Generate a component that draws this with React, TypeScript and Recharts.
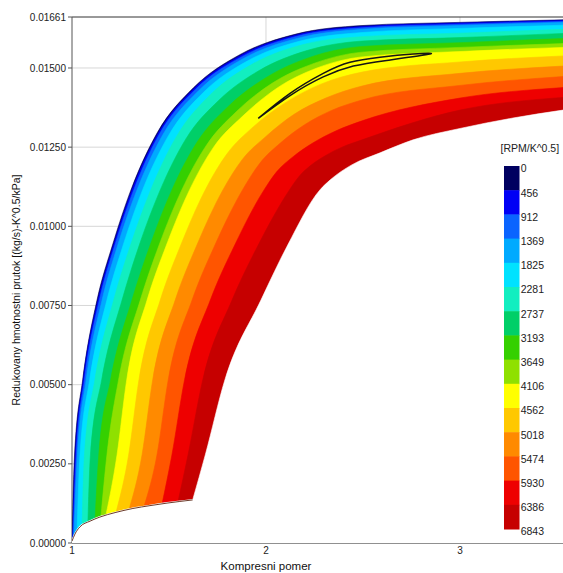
import React from "react";
import { ScatterChart, Scatter, XAxis, YAxis, ReferenceLine, Legend, Curve } from "recharts";

const FONT = '"Liberation Sans", Arial, sans-serif';

// hranice pasem otacek, body [kompresni pomer, prutok], od modre (0) po vnejsi cervenou (15)
const B0 = [[1.0, 0.00006], [1.013, 0.00278], [1.055, 0.00515], [1.129, 0.00767], [1.209, 0.00941], [1.304, 0.01115], [1.44, 0.01296], [1.627, 0.01438], [1.865, 0.01542], [2.154, 0.01607], [2.495, 0.01634], [3.0, 0.01644], [3.531, 0.01652]];
const B1 = [[1.003, 0.0001], [1.017, 0.00278], [1.058, 0.00515], [1.134, 0.00767], [1.214, 0.00941], [1.309, 0.01115], [1.444, 0.01294], [1.63, 0.01436], [1.867, 0.01539], [2.155, 0.01604], [2.495, 0.01631], [3.0, 0.01642], [3.531, 0.0165]];
const B2 = [[1.005, 0.00014], [1.022, 0.00278], [1.064, 0.00515], [1.141, 0.00767], [1.221, 0.00941], [1.318, 0.01115], [1.452, 0.01293], [1.637, 0.01433], [1.873, 0.01535], [2.158, 0.016], [2.495, 0.01627], [3.0, 0.01638], [3.531, 0.01647]];
const B3 = [[1.01, 0.00021], [1.028, 0.00278], [1.073, 0.00515], [1.155, 0.00767], [1.236, 0.00941], [1.335, 0.01115], [1.469, 0.0129], [1.652, 0.01428], [1.884, 0.0153], [2.165, 0.01594], [2.495, 0.01622], [3.0, 0.01634], [3.531, 0.01644]];
const B4 = [[1.026, 0.00037], [1.041, 0.00278], [1.091, 0.00515], [1.18, 0.00767], [1.264, 0.00941], [1.364, 0.01115], [1.498, 0.01287], [1.678, 0.01423], [1.904, 0.01522], [2.176, 0.01585], [2.495, 0.01612], [3.0, 0.01625], [3.531, 0.01635]];
const B5 = [[1.052, 0.00054], [1.064, 0.00278], [1.118, 0.00515], [1.215, 0.00767], [1.302, 0.00941], [1.406, 0.01115], [1.539, 0.01284], [1.714, 0.01416], [1.932, 0.01513], [2.192, 0.01574], [2.495, 0.01599], [3.0, 0.0161], [3.531, 0.01622]];
const B6 = [[1.082, 0.00066], [1.095, 0.00278], [1.153, 0.00515], [1.258, 0.00767], [1.347, 0.00941], [1.455, 0.01115], [1.587, 0.01276], [1.757, 0.01398], [1.965, 0.01492], [2.211, 0.01555], [2.495, 0.01585], [3.0, 0.01596], [3.531, 0.01609]];
const B7 = [[1.119, 0.00075], [1.138, 0.00278], [1.199, 0.00515], [1.309, 0.00767], [1.403, 0.00941], [1.515, 0.01115], [1.645, 0.01266], [1.808, 0.0138], [2.004, 0.01471], [2.233, 0.01535], [2.495, 0.01568], [3.0, 0.0158], [3.531, 0.01593]];
const B8 = [[1.149, 0.00083], [1.18, 0.00278], [1.24, 0.00515], [1.352, 0.00767], [1.449, 0.00941], [1.566, 0.01115], [1.693, 0.01256], [1.849, 0.01363], [2.035, 0.01453], [2.25, 0.01515], [2.495, 0.0155], [3.0, 0.01565], [3.531, 0.01577]];
const B9 = [[1.175, 0.00088], [1.232, 0.00278], [1.282, 0.00515], [1.387, 0.00767], [1.487, 0.00941], [1.606, 0.01115], [1.73, 0.0125], [1.88, 0.01348], [2.058, 0.01437], [2.263, 0.015], [2.495, 0.01535], [3.0, 0.01552], [3.531, 0.01565]];
const B10 = [[1.227, 0.00097], [1.292, 0.00278], [1.345, 0.00515], [1.455, 0.00767], [1.561, 0.00941], [1.687, 0.01115], [1.798, 0.01228], [1.934, 0.01314], [2.096, 0.01389], [2.283, 0.01449], [2.495, 0.01487], [3.0, 0.01519], [3.531, 0.01538]];
const B11 = [[1.294, 0.00106], [1.361, 0.00278], [1.416, 0.00515], [1.532, 0.00767], [1.644, 0.00941], [1.778, 0.01115], [1.878, 0.01211], [2.0, 0.01284], [2.143, 0.01353], [2.308, 0.01405], [2.495, 0.01443], [3.0, 0.01483], [3.531, 0.01506]];
const B12 = [[1.371, 0.00115], [1.438, 0.00278], [1.496, 0.00515], [1.619, 0.00767], [1.737, 0.00941], [1.879, 0.01115], [1.968, 0.01199], [2.074, 0.01263], [2.197, 0.0132], [2.338, 0.01366], [2.495, 0.01399], [3.0, 0.01445], [3.531, 0.01473]];
const B13 = [[1.464, 0.00123], [1.515, 0.00278], [1.58, 0.00515], [1.713, 0.00767], [1.839, 0.00941], [1.99, 0.01115], [2.056, 0.01173], [2.14, 0.0122], [2.241, 0.01263], [2.359, 0.01301], [2.495, 0.01333], [3.0, 0.01405], [3.531, 0.01438]];
const B14 = [[1.546, 0.00129], [1.598, 0.00278], [1.674, 0.00515], [1.825, 0.00767], [1.96, 0.00941], [2.121, 0.01115], [2.167, 0.01155], [2.228, 0.01191], [2.303, 0.01222], [2.392, 0.0125], [2.495, 0.01273], [3.0, 0.01367], [3.531, 0.01407]];
const B15 = [[1.622, 0.00136], [1.687, 0.00278], [1.788, 0.00515], [1.974, 0.00767], [2.112, 0.00941], [2.278, 0.01115], [2.33, 0.01146], [2.442, 0.01194], [2.588, 0.01232], [2.758, 0.01273], [3.0, 0.01309], [3.273, 0.01342], [3.531, 0.01367]];
const BOUNDARIES = [B0, B1, B2, B3, B4, B5, B6, B7, B8, B9, B10, B11, B12, B13, B14];

// spodni okraj mapy
const BOTTOM_EDGE = [[1.0, 0.00006], [1.015, 0.00028], [1.041, 0.00051], [1.093, 0.00069], [1.144, 0.00082], [1.222, 0.00096], [1.314, 0.00109], [1.402, 0.00118], [1.49, 0.00126], [1.622, 0.00136]];

// cerna smycka (pracovni oblast)
const LOOP = [[1.96, 0.01341], [2.124, 0.0142], [2.295, 0.01483], [2.433, 0.01518], [2.588, 0.01534], [2.759, 0.01544], [2.845, 0.01544], [2.622, 0.01524], [2.45, 0.01506], [2.295, 0.01472], [2.124, 0.01413], [1.96, 0.01341]];

const LEVELS = [0, 456, 912, 1369, 1825, 2281, 2737, 3193, 3649, 4106, 4562, 5018, 5474, 5930, 6386, 6843];
const BAND_COLORS = ["#000060", "#0000f5", "#0a64ff", "#00aaff", "#00e2ff", "#12eec0", "#00cf68", "#35d000", "#8fe000", "#ffff00", "#ffc800", "#ff8a00", "#ff5500", "#ee0000", "#c60000"];

const X_TICKS = [1, 2, 3];
const Y_TICKS = [0, 0.0025, 0.005, 0.0075, 0.01, 0.0125, 0.015, 0.01661];
const X_MAX = 3.531;
const Y_MAX = 0.01661;

// posledni bod (x, 0) slouzi jen jako zakladna plochy
const withBase = (arr: number[][]) => [...arr, [arr[arr.length - 1][0], 0]].map(([x, y]) => ({ x, y }));

const bandSeries = BAND_COLORS.map((color, k) => ({ color, points: withBase(BOUNDARIES[k]) }));
const masks = [
  { points: withBase(B15), width: 0.6 },
  { points: withBase(BOTTOM_EDGE), width: 2 },
];
const bottomPts = BOTTOM_EDGE.map(([x, y]) => ({ x, y }));
const loopPts = LOOP.map(([x, y]) => ({ x, y }));

const noDot = () => <g />;

// plocha pod hranici az k ose x
const areaUnder = (color: string, width = 0.6) => (lp: any) => {
  const pts = lp.points;
  const base = pts[pts.length - 1].y;
  return (
    <Curve
      type="monotoneX"
      points={pts.slice(0, -1)}
      baseLine={base}
      layout="horizontal"
      fill={color}
      stroke={color}
      strokeWidth={width}
    />
  );
};

function ColorBar() {
  const top = 28;
  const bandH = 24.2;
  return (
    <svg width={70} height={400} style={{ fontFamily: FONT }}>
      <text x={5.5} y={13.8} fontSize={10.5} fill="#222">
        [RPM/K^0.5]
      </text>
      {BAND_COLORS.map((c, i) => (
        <rect key={c} x={9} y={top + i * bandH} width={15.5} height={bandH + 0.5} fill={c} />
      ))}
      {LEVELS.map((v, i) => (
        <text key={v} x={25.7} y={top + i * bandH + 6.3} fontSize={10.5} fill="#222">
          {v}
        </text>
      ))}
    </svg>
  );
}

function AxisTitle({ tx, ty, rot, size, text }: { tx: number; ty: number; rot?: number; size: number; text: string }) {
  return (
    <text
      x={tx}
      y={ty}
      transform={rot ? `rotate(${rot} ${tx} ${ty})` : undefined}
      textAnchor="middle"
      fontSize={size}
      fontFamily={FONT}
      fill="#111"
    >
      {text}
    </text>
  );
}

export default function App() {
  return (
    <div style={{ position: "absolute", left: 0, top: 0, width: 563, height: 573, background: "#fff" }}>
      <ScatterChart width={563} height={573} margin={{ top: 17, right: 0, bottom: 0, left: 0 }}>
        <XAxis
          dataKey="x"
          type="number"
          domain={[1, X_MAX]}
          ticks={X_TICKS}
          allowDataOverflow
          height={30}
          tickLine={false}
          tickSize={2}
          axisLine={{ stroke: "#222" }}
          tick={{ fontSize: 10, fill: "#222", fontFamily: FONT }}
          label={<AxisTitle tx={266} ty={570} size={11.5} text="Kompresni pomer" />}
        />
        <YAxis
          dataKey="y"
          type="number"
          domain={[0, Y_MAX]}
          ticks={Y_TICKS}
          interval={0}
          allowDataOverflow
          width={72}
          tickSize={4}
          tickFormatter={(v: number) => v.toFixed(5)}
          axisLine={{ stroke: "#555" }}
          tickLine={{ stroke: "#555" }}
          tick={{ fontSize: 10, fill: "#222", fontFamily: FONT }}
          label={<AxisTitle tx={20} ty={290} rot={-90} size={10.5} text="Redukovany hmotnostni prutok [(kg/s)-K^0.5/kPa]" />}
        />
        {bandSeries.map((s, k) => (
          <Scatter
            key={k}
            data={s.points}
            fill={s.color}
            shape={noDot}
            line={areaUnder(s.color)}
            lineType="joint"
            legendType="none"
            isAnimationActive={false}
          />
        ))}
        {masks.map((m, i) => (
          <Scatter
            key={"m" + i}
            data={m.points}
            fill="#fff"
            shape={noDot}
            line={areaUnder("#fff", m.width)}
            lineType="joint"
            legendType="none"
            isAnimationActive={false}
          />
        ))}
        <Scatter
          data={bottomPts}
          fill="#5a2412"
          shape={noDot}
          line={{ fill: "none", stroke: "#5a2412", strokeWidth: 0.9 }}
          lineType="joint"
          lineJointType="monotoneX"
          legendType="none"
          isAnimationActive={false}
        />
        <Scatter
          data={loopPts}
          fill="#111"
          shape={noDot}
          line={{ fill: "none", stroke: "#151515", strokeWidth: 1.5 }}
          lineType="joint"
          lineJointType="natural"
          legendType="none"
          isAnimationActive={false}
        />
        {Y_TICKS.slice(1, -1).map((v) => (
          <ReferenceLine key={"y" + v} y={v} stroke="#9a9a9a" strokeOpacity={0.4} />
        ))}
        {[2, 3].map((v) => (
          <ReferenceLine key={"x" + v} x={v} stroke="#9a9a9a" strokeOpacity={0.4} />
        ))}
        <ReferenceLine y={Y_MAX} stroke="#333" />
        <Legend
          layout="vertical"
          align="center"
          verticalAlign="middle"
          width={70}
          height={400}
          wrapperStyle={{ left: 495, top: 138, width: 70, height: 400 }}
          content={() => <ColorBar />}
        />
      </ScatterChart>
    </div>
  );
}
